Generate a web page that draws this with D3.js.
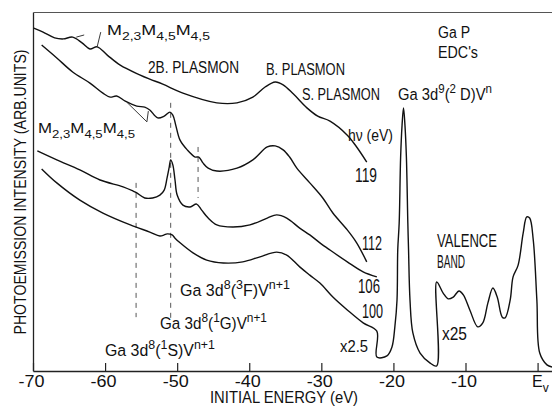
<!DOCTYPE html>
<html>
<head>
<meta charset="utf-8">
<script src="https://cdn.jsdelivr.net/npm/d3@7"></script>
<style>
  body { margin: 0; background: #fff; }
  svg text { font-family: "Liberation Sans", Arial, sans-serif; fill: #111; white-space: pre; }
</style>
</head>
<body>
<div id="chart"></div>
<script>
// GaP EDC's - photoemission spectra at several photon energies

const width = 552;
const height = 411;
const margin = { left: 33, right: 0, top: 12, bottom: 40 };

// energies in eV, intensity in arbitrary units (0 = axis, 100 = top of frame)
const energy119 = [-69.9, -68.6, -67.0, -65.8, -64.5, -63.2, -62.1, -61.1, -59.7, -57.9, -55.2, -53.8, -52.0, -49.2, -44.5, -41.7, -39.5, -37.8, -36.4, -35.3, -33.9, -32.0, -30.5, -28.8, -26.4, -25.1, -23.7];
const inten119 = [95.5, 94.4, 92.8, 92.5, 93.0, 91.4, 89.7, 90.3, 88.0, 85.2, 82.5, 81.3, 79.9, 77.4, 74.7, 74.7, 76.3, 79.1, 80.5, 79.7, 77.2, 73.3, 71.0, 69.6, 65.7, 62.4, 58.2];

const energy112 = [-68.8, -66.7, -64.5, -62.1, -60.3, -59.3, -58.4, -57.2, -55.6, -54.5, -53.8, -52.7, -51.8, -51.0, -50.6, -50.2, -49.6, -48.6, -47.5, -47.0, -46.4, -45.7, -44.5, -41.7, -39.5, -37.5, -36.4, -35.3, -34.4, -33.4, -31.6, -29.8, -28.4, -26.4, -25.1, -23.7];
const inten112 = [90.8, 87.2, 83.3, 80.2, 77.4, 76.3, 76.6, 75.2, 73.8, 73.5, 72.7, 70.5, 71.0, 72.1, 71.3, 68.5, 64.3, 61.6, 59.6, 59.6, 57.9, 56.5, 55.7, 56.5, 58.8, 62.4, 62.7, 61.6, 59.6, 56.5, 52.4, 48.2, 44.0, 39.3, 35.7, 30.4];

const energy106 = [-69.4, -66.7, -63.5, -60.7, -57.5, -56.1, -55.6, -54.5, -53.4, -52.4, -51.8, -51.4, -51.1, -50.9, -50.6, -50.3, -50.0, -49.2, -48.2, -47.3, -46.6, -45.7, -44.5, -42.3, -39.9, -37.5, -36.2, -34.8, -33.0, -31.6, -30.2, -28.8, -26.4, -24.2, -22.3];
const inten106 = [61.3, 58.8, 56.0, 53.2, 51.3, 50.1, 49.6, 48.2, 48.2, 49.0, 50.4, 53.8, 56.8, 58.8, 57.4, 53.2, 49.0, 46.2, 45.7, 46.5, 44.8, 42.6, 40.7, 40.1, 40.7, 42.6, 43.5, 42.6, 39.8, 37.9, 35.7, 33.7, 30.4, 27.6, 26.2];

// 100 eV curve: x2.5 below -22 eV, Ga 3d peak, x25 valence band
const energy100 = [-68.8, -66.7, -63.5, -60.3, -56.5, -53.8, -52.4, -51.8, -51.4, -50.7, -50.3, -49.6, -47.8, -45.9, -43.6, -40.9, -38.5, -36.2, -34.8, -33.0, -31.6, -30.2, -28.4, -26.4, -24.2, -22.3,
  -22.3, -20.9, -20.2, -19.8, -19.5, -19.4, -19.2, -19.0, -18.8, -18.6, -18.4, -18.2, -18.0, -17.9, -17.7, -17.3, -16.3, -14.9, -14.0,
  -14.0, -13.1, -12.4, -11.7, -10.9, -10.3, -9.4, -8.3, -7.6, -6.9, -6.2, -5.6, -4.9, -4.5, -3.8, -3.4, -2.7, -2.0, -1.5, -1.1, -0.6, -0.1, 0.3, 1.3, 2.0];
const inten100 = [56.3, 52.4, 47.6, 44.0, 40.7, 38.7, 37.6, 37.9, 38.2, 37.9, 37.0, 35.7, 32.9, 30.9, 30.1, 30.4, 31.8, 33.1, 32.3, 29.0, 26.7, 24.5, 20.6, 17.0, 13.4, 11.1,
  3.9, 4.2, 6.7, 12.3, 19.8, 33.7, 41.2, 59.6, 68.5, 73.3, 68.5, 59.6, 41.2, 33.7, 19.8, 10.6, 5.0, 2.2, 1.4,
  24.8, 21.7, 20.1, 20.6, 22.3, 21.2, 17.0, 12.3, 13.4, 18.9, 23.1, 20.6, 15.0, 14.8, 19.8, 26.2, 29.5, 38.4, 42.9, 42.6, 36.5, 19.8, 5.0, 1.7, 1.1];

const tickValues = [-70, -60, -50, -40, -30, -20, -10, 0];
const tickLabels = ["-70", "-60", "-50", "-40", "-30", "-20", "-10", "E"];

// dashed markers for the Ga 3d8 final states
const markerEnergy = [-55.7, -50.9, -47.1];
const markerTop = [52.4, 74.7, 62.4];
const markerBottom = [15.0, 14.8, 48.2];

// leader lines from the Auger labels
const leaderE1 = [-60.6, -64.0, -54.2, -54.2];
const leaderI1 = [94.4, 93.0, 69.4, 69.4];
const leaderE2 = [-61.1, -62.9, -57.0, -54.0];
const leaderI2 = [90.3, 93.6, 74.9, 72.4];

const svg = d3.select("#chart")
  .append("svg")
  .attr("width", width)
  .attr("height", height);

svg.append("rect").attr("width", width).attr("height", height).attr("fill", "#fff");

const xScale = d3.scaleLinear()
  .domain([-70, 2])
  .range([margin.left, width - margin.right]);

const yScale = d3.scaleLinear()
  .domain([0, 100])
  .range([height - margin.bottom, margin.top]);

// axes
const gx = svg.append("g")
  .attr("transform", `translate(0,${yScale(0)})`)
  .call(d3.axisBottom(xScale)
    .tickValues(tickValues)
    .tickSizeInner(-8)
    .tickSizeOuter(0)
    .tickPadding(5)
    .tickFormat((d, i) => tickLabels[i]))
  .attr("font-size", 16)
  .attr("font-family", null);
gx.select(".domain").attr("stroke", "#222").attr("stroke-width", 1.3);
gx.selectAll(".tick line").attr("stroke", "#222").attr("stroke-width", 1.2);
gx.selectAll(".tick text")
  .attr("fill", "#111")
  .filter(d => d !== 0)
  .attr("dx", -2)
  .attr("textLength", 26)
  .attr("lengthAdjust", "spacingAndGlyphs");
gx.selectAll(".tick text")
  .filter(d => d === 0)
  .attr("text-anchor", "start")
  .attr("dx", -6)
  .append("tspan")
  .attr("dy", 5)
  .attr("font-size", 12)
  .text("v");

svg.append("g")
  .attr("transform", `translate(${margin.left},0)`)
  .call(d3.axisLeft(yScale).tickValues([]).tickSizeOuter(0))
  .select(".domain").attr("stroke", "#222").attr("stroke-width", 1.3);

svg.append("g")
  .attr("transform", `translate(0,${margin.top})`)
  .call(d3.axisTop(xScale).tickValues([]).tickSizeOuter(0))
  .select(".domain").attr("stroke", "#555").attr("stroke-width", 1);

// dashed markers
svg.selectAll(".marker")
  .data(markerEnergy)
  .enter()
  .append("line")
  .attr("class", "marker")
  .attr("x1", d => xScale(d))
  .attr("x2", d => xScale(d))
  .attr("y1", (d, i) => yScale(markerTop[i]))
  .attr("y2", (d, i) => yScale(markerBottom[i]))
  .attr("stroke", "#444")
  .attr("stroke-width", 0.9)
  .attr("stroke-dasharray", "5,5");

// spectra
const spectra = [
  { e: energy119, i: inten119 },
  { e: energy112, i: inten112 },
  { e: energy106, i: inten106 },
  { e: energy100, i: inten100 }
];

const line = d3.line()
  .x(d => xScale(d[0]))
  .y(d => yScale(d[1]))
  .curve(d3.curveCatmullRom.alpha(0.5));

svg.selectAll(".spectrum")
  .data(spectra)
  .enter()
  .append("path")
  .attr("class", "spectrum")
  .attr("d", s => line(d3.zip(s.e, s.i)))
  .attr("fill", "none")
  .attr("stroke", "#111")
  .attr("stroke-width", 1.4)
  .attr("stroke-linejoin", "round");

svg.selectAll(".leader")
  .data(leaderE1)
  .enter()
  .append("line")
  .attr("class", "leader")
  .attr("x1", d => xScale(d))
  .attr("y1", (d, i) => yScale(leaderI1[i]))
  .attr("x2", (d, i) => xScale(leaderE2[i]))
  .attr("y2", (d, i) => yScale(leaderI2[i]))
  .attr("stroke", "#222")
  .attr("stroke-width", 0.9);

// plain labels: text, x, baseline, font size, width
const labels = [
  ["2B. PLASMON", 148, 73, 16, 91],
  ["B. PLASMON", 266, 75, 16, 79],
  ["S. PLASMON", 302, 100, 16, 78],
  ["Ga P", 438, 38, 16, 32],
  ["EDC's", 438, 58, 16, 40],
  ["hν (eV)", 348, 141, 16, 45],
  ["119", 355, 182, 21, 22],
  ["112", 362, 250, 21, 20],
  ["106", 358, 293, 21, 22],
  ["100", 362, 318, 21, 21],
  ["x2.5", 340, 352, 16, 28],
  ["VALENCE", 437, 247, 18, 60],
  ["BAND", 437, 268, 18, 28],
  ["x25", 442, 340, 18, 25]
];

labels.forEach(l => {
  svg.append("text")
    .attr("x", l[1])
    .attr("y", l[2])
    .attr("font-size", l[3])
    .attr("textLength", l[4])
    .attr("lengthAdjust", "spacingAndGlyphs")
    .text(l[0]);
});

// labels with sub/superscripts
function richLabel(parts, x, y, fs, w) {
  const g = svg.append("g");
  const t = g.append("text").attr("font-size", fs);
  let shift = 0;
  parts.forEach(p => {
    const target = p[1] === "sup" ? -0.42 * fs : p[1] === "sub" ? 0.32 * fs : 0;
    t.append("tspan")
      .attr("dy", target - shift)
      .attr("font-size", p[1] === "n" ? fs : fs * 0.78)
      .text(p[0]);
    shift = target;
  });
  const sx = w / t.node().getComputedTextLength();
  g.attr("transform", `translate(${x},${y}) scale(${sx},1)`);
}

const auger = [["M", "n"], ["2,3", "sub"], ["M", "n"], ["4,5", "sub"], ["M", "n"], ["4,5", "sub"]];
richLabel(auger, 107, 35, 15, 103);
richLabel(auger, 38, 133, 15, 97);
richLabel([["Ga 3d", "n"], ["9", "sup"], ["(", "n"], ["2", "sup"], [" D)V", "n"], ["n", "sup"]], 398, 100, 17, 94);
richLabel([["Ga 3d", "n"], ["8", "sup"], ["(", "n"], ["3", "sup"], ["F)V", "n"], ["n+1", "sup"]], 180, 296, 17, 110);
richLabel([["Ga 3d", "n"], ["8", "sup"], ["(", "n"], ["1", "sup"], ["G)V", "n"], ["n+1", "sup"]], 160, 329, 17, 107);
richLabel([["Ga 3d", "n"], ["8", "sup"], ["(", "n"], ["1", "sup"], ["S)V", "n"], ["n+1", "sup"]], 105, 356, 17, 110);

// axis titles
svg.append("text")
  .attr("transform", "translate(26,192) rotate(-90)")
  .attr("text-anchor", "middle")
  .attr("font-size", 16)
  .attr("textLength", 285)
  .attr("lengthAdjust", "spacingAndGlyphs")
  .text("PHOTOEMISSION INTENSITY (ARB.UNITS)");

svg.append("text")
  .attr("x", 284)
  .attr("y", 403)
  .attr("text-anchor", "middle")
  .attr("font-size", 16)
  .attr("textLength", 148)
  .attr("lengthAdjust", "spacingAndGlyphs")
  .text("INITIAL ENERGY (eV)");
</script>
</body>
</html>
